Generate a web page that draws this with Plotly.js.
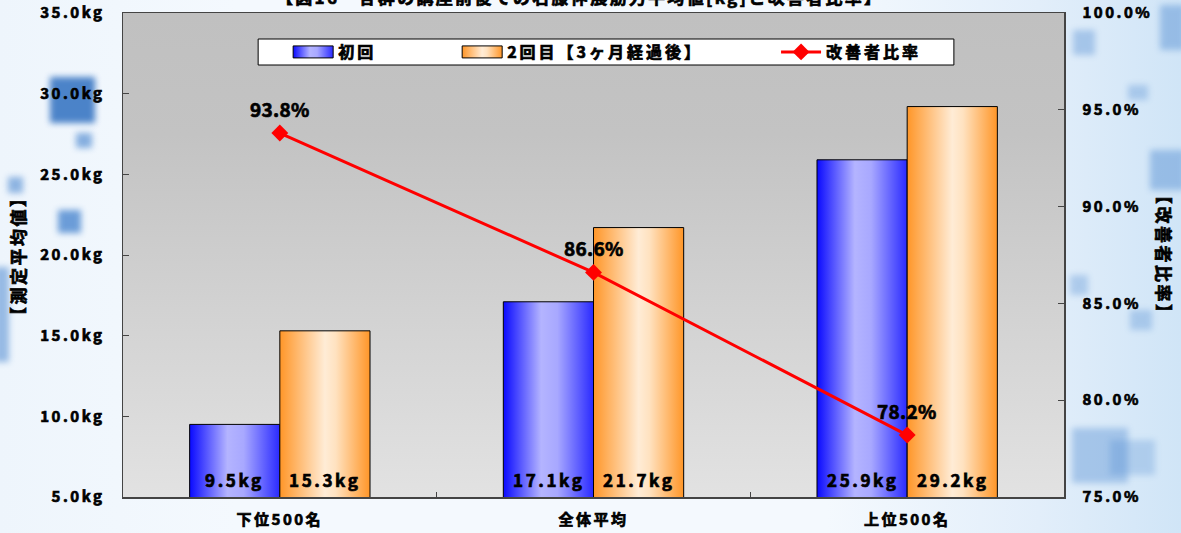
<!DOCTYPE html>
<html>
<head>
<meta charset="utf-8">
<script src="https://cdn.plot.ly/plotly-3.0.1.min.js"></script>
<style>
  html, body { margin: 0; padding: 0; }
  body {
    width: 1181px; height: 533px; overflow: hidden; position: relative;
    background: linear-gradient(90deg, #eef5fc 0%, #f4f9fe 20%, #f4f9fe 70%, #e2eefa 88%, #d0e5f7 100%);
  }
  .tile { position: absolute; background: #3f7fcc; filter: blur(3px); opacity: 0.85; }
  #chart { position: absolute; left: 0; top: 0; }
  svg text { stroke: #000 !important; stroke-width: 0.7px !important; }
  .xtick text, .ytick text, .y2tick text { letter-spacing: 2.5px; }
  .legendtext { letter-spacing: 3px; }
</style>
</head>
<body>
<!-- soft blue tiles of the page backdrop -->
<div class="tile" style="left:50px;top:77px;width:45px;height:46px;background:#2f6fc0;"></div>
<div class="tile" style="left:76px;top:133px;width:16px;height:15px;opacity:.6"></div>
<div class="tile" style="left:8px;top:177px;width:15px;height:16px;opacity:.55"></div>
<div class="tile" style="left:58px;top:210px;width:23px;height:23px;opacity:.75"></div>
<div class="tile" style="left:-6px;top:267px;width:15px;height:95px;opacity:.5"></div>
<div class="tile" style="left:1073px;top:30px;width:22px;height:25px;opacity:.35"></div>
<div class="tile" style="left:1160px;top:5px;width:25px;height:45px;opacity:.4"></div>
<div class="tile" style="left:1128px;top:85px;width:20px;height:15px;opacity:.3"></div>
<div class="tile" style="left:1150px;top:150px;width:35px;height:40px;opacity:.4"></div>
<div class="tile" style="left:1070px;top:275px;width:18px;height:20px;opacity:.3"></div>
<div class="tile" style="left:1130px;top:310px;width:22px;height:20px;opacity:.3"></div>
<div class="tile" style="left:1072px;top:428px;width:56px;height:55px;opacity:.35"></div>
<div class="tile" style="left:1110px;top:440px;width:45px;height:35px;opacity:.25"></div>
<div id="chart"></div>
<script>
// Knee extension strength averages per group, and share of improved participants
const categories = ['下位500名', '全体平均', '上位500名'];
const firstValues = [9.5, 17.1, 25.9];          // kg, first measurement
const secondValues = [15.3, 21.7, 29.2];        // kg, after 3 months
const ratioValues = [93.8, 86.6, 78.2];         // %, improved participants
const seriesNames = ['初回', '2回目【3ヶ月経過後】', '改善者比率'];
const chartTitle = '【図16　各群の講座前後での右膝伸展筋力平均値[kg]と改善者比率】';
const leftTitle = '【測定平均値】';
const rightTitle = '【改善者比率】';

const FONT = '"Noto Sans CJK JP", "Noto Sans", sans-serif';
const txt = (size) => ({ family: FONT, size: size, color: '#000', weight: 700 });
const spaced = (s, px) => `<span style="letter-spacing:${px}px">${s}</span>`;
const pad = '\u3000\u3000\u3000\u3000';

const traces = [
  {
    type: 'bar', name: seriesNames[0] + pad, x: categories, y: firstValues,
    marker: { color: '#5a5aff', line: { color: '#000', width: 1 } },
    hoverinfo: 'skip'
  },
  {
    type: 'bar', name: seriesNames[1] + pad, x: categories, y: secondValues,
    marker: { color: '#ffb060', line: { color: '#000', width: 1 } },
    hoverinfo: 'skip'
  },
  {
    type: 'scatter', mode: 'lines+markers', name: seriesNames[2], x: categories, y: ratioValues,
    yaxis: 'y2', line: { color: '#ff0000', width: 3 },
    marker: { symbol: 'diamond', size: 13, color: '#ff0000' },
    hoverinfo: 'skip'
  }
];

const annotations = [];
// value labels sitting at the foot of each bar, and ratio labels above the line
categories.forEach((c, i) => {
  annotations.push({ x: c, y: 5, yref: 'y', xref: 'x', text: spaced(firstValues[i].toFixed(1) + 'kg', 2.6),
    showarrow: false, yanchor: 'bottom', xshift: -45, yshift: 3, font: txt(17) });
  annotations.push({ x: c, y: 5, yref: 'y', xref: 'x', text: spaced(secondValues[i].toFixed(1) + 'kg', 2.6),
    showarrow: false, yanchor: 'bottom', xshift: 45, yshift: 3, font: txt(17) });
  annotations.push({ x: c, y: ratioValues[i], yref: 'y2', xref: 'x', text: spaced(ratioValues[i].toFixed(1) + '%', 0.3),
    showarrow: false, yanchor: 'middle', yshift: 25, font: txt(19) });
});
annotations.push({ xref: 'paper', yref: 'paper', x: 0.485, y: 1, xanchor: 'center', yanchor: 'middle', yshift: 17,
  text: spaced(chartTitle, 2.3), showarrow: false, font: txt(17) });
annotations.push({ xref: 'paper', yref: 'paper', x: (17 - 123) / 940, y: 0.5, xanchor: 'center', yanchor: 'middle',
  textangle: -90, text: spaced(leftTitle, 2.5), showarrow: false, font: txt(17) });
annotations.push({ xref: 'paper', yref: 'paper', x: (1164 - 123) / 940, y: 0.5, xanchor: 'center', yanchor: 'middle',
  textangle: 90, text: spaced(rightTitle, 2.5), showarrow: false, font: txt(17) });

const layout = {
  width: 1181, height: 533,
  margin: { l: 123, r: 117, t: 13, b: 36 },
  paper_bgcolor: 'rgba(0,0,0,0)',
  plot_bgcolor: '#d0d0d0',
  barmode: 'group', bargap: 0.425, bargroupgap: 0,
  showlegend: true,
  legend: {
    orientation: 'h', x: 0.1755, xanchor: 'left', y: 0.9194, yanchor: 'middle',
    bgcolor: 'rgba(0,0,0,0)', borderwidth: 0, font: txt(16), itemwidth: 40,
    traceorder: 'normal'
  },
  shapes: [{
    type: 'rect', xref: 'paper', yref: 'paper', layer: 'below',
    x0: (258 - 123) / 940, x1: (953 - 123) / 940, y0: (497 - 65) / 484, y1: (497 - 39) / 484,
    fillcolor: '#ffffff', line: { color: '#000', width: 1 }
  }],
  xaxis: {
    type: 'category', categoryorder: 'array', categoryarray: categories,
    showline: true, linecolor: '#444', linewidth: 1.5, mirror: true,
    ticks: 'inside', tickson: 'boundaries', ticklen: 5, tickcolor: '#444',
    tickfont: txt(15), ticklabelstandoff: 8, showgrid: false, zeroline: false, fixedrange: true
  },
  yaxis: {
    range: [5, 35], dtick: 5, tickformat: '.1f', ticksuffix: 'kg',
    showline: true, linecolor: '#444', linewidth: 1.5, mirror: true,
    ticks: 'inside', ticklen: 6, tickcolor: '#444',
    tickfont: txt(15), ticklabelstandoff: 14, showgrid: false, zeroline: false, fixedrange: true
  },
  yaxis2: {
    overlaying: 'y', side: 'right', range: [75, 100], dtick: 5, tickformat: '.1f', ticksuffix: '%',
    showline: true, linecolor: '#444', linewidth: 1.5,
    ticks: 'inside', ticklen: 6, tickcolor: '#444',
    tickfont: txt(15), ticklabelstandoff: 14, showgrid: false, zeroline: false, fixedrange: true
  },
  annotations: annotations
};

function addGradient(defs, id, stops, vertical) {
  const ns = 'http://www.w3.org/2000/svg';
  const g = document.createElementNS(ns, 'linearGradient');
  g.setAttribute('id', id);
  g.setAttribute('x1', '0'); g.setAttribute('y1', '0');
  g.setAttribute('x2', vertical ? '0' : '1'); g.setAttribute('y2', vertical ? '1' : '0');
  stops.forEach(([o, c]) => {
    const s = document.createElementNS(ns, 'stop');
    s.setAttribute('offset', o); s.setAttribute('stop-color', c);
    g.appendChild(s);
  });
  defs.appendChild(g);
}

Plotly.newPlot('chart', traces, layout, { staticPlot: true, displayModeBar: false }).then((gd) => {
  const svg = gd.querySelector('.main-svg');
  const defs = svg.querySelector('defs');
  addGradient(defs, 'gradBlue', [[0, '#0a0aff'], [0.42, '#b4b4ff'], [0.6, '#a8a8ff'], [1, '#2a2aff']]);
  addGradient(defs, 'gradOrange', [[0, '#ff9628'], [0.5, '#ffecd6'], [0.62, '#ffe2c0'], [1, '#ff9628']]);
  addGradient(defs, 'gradBg', [[0, '#c0c0c0'], [0.25, '#c3c3c3'], [1, '#e2e2e2']], true);

  const bg = gd.querySelector('.bglayer rect.bg');
  if (bg) bg.style.fill = 'url(#gradBg)';

  const fills = ['url(#gradBlue)', 'url(#gradOrange)'];
  gd.querySelectorAll('.barlayer .trace').forEach((t, i) => {
    t.querySelectorAll('.point path').forEach((p) => { p.style.fill = fills[i]; });
  });
  // widen the bar swatches in the legend
  gd.querySelectorAll('.legend .traces').forEach((t, i) => {
    if (i > 1) return;
    const p = t.querySelector('.legendpoints path');
    if (!p) return;
    const b = p.getBBox();
    const cx = b.x + b.width / 2, cy = b.y + b.height / 2;
    p.setAttribute('d', `M${cx - 20},${cy - 6}H${cx + 20}V${cy + 6}H${cx - 20}Z`);
    p.style.fill = fills[i];
    p.style.stroke = '#000';
    p.style.strokeWidth = '1px';
  });
});
</script>
</body>
</html>
